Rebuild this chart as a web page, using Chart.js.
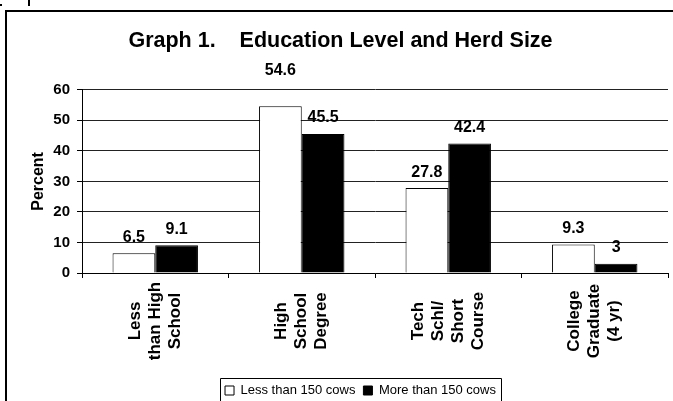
<!DOCTYPE html>
<html>
<head>
<meta charset="utf-8">
<script src="https://cdn.jsdelivr.net/npm/chart.js@4"></script>
<style>
  html, body { margin: 0; padding: 0; background: #fff; }
  body { width: 673px; height: 401px; position: relative; overflow: hidden; }
  #frame { position: absolute; left: 5px; top: 10px; width: 700px; height: 420px; border-left: 2px solid #000; border-top: 2px solid #000; }
  #wrap { position: absolute; left: 0; top: 0; width: 673px; height: 401px; }
  .mark { position: absolute; background: #000; }
</style>
</head>
<body>
<div class="mark" style="left:28px;top:0;width:2px;height:6px"></div>
<div class="mark" style="left:0;top:4px;width:2px;height:2px"></div>
<div id="frame"></div>
<div id="wrap"><canvas id="chart"></canvas></div>
<script>
const categories = [
  ['Less', 'than High', 'School'],
  ['High', 'School', 'Degree'],
  ['Tech', 'Schl/', 'Short', 'Course'],
  ['College', 'Graduate', '(4 yr)']
]
const seriesNames = ['Less than 150 cows', 'More than 150 cows']
const lessThan150 = [6.5, 54.6, 27.8, 9.3]
const moreThan150 = [9.1, 45.5, 42.4, 3]
const yMin = 0
const yMax = 60
const yStep = 10

const FONT = '"Liberation Sans", Arial, sans-serif'

/* labels drawn by hand: rotated category names (centred) and values on top of bars */
const extras = {
  id: 'extras',
  afterLayout(chart) {
    // the legend sits a little right of centre in the original
    chart.legend.left += 20
    chart.legend.right += 20
  },
  afterDraw(chart) {
    const ctx = chart.ctx
    const xs = chart.scales.x
    ctx.save()
    ctx.fillStyle = '#000'
    ctx.textAlign = 'center'
    ctx.textBaseline = 'middle'

    // category names, one column per line
    ctx.font = 'bold 17px ' + FONT
    categories.forEach((lines, i) => {
      const cx = xs.getPixelForValue(i)
      lines.forEach((line, k) => {
        ctx.save()
        ctx.translate(cx + (k - (lines.length - 1) / 2) * 20, 321)
        ctx.rotate(-Math.PI / 2)
        ctx.fillText(line, 0, 0)
        ctx.restore()
      })
    })

    // values above the bars
    ctx.font = 'bold 16px ' + FONT
    chart.data.datasets.forEach((ds, d) => {
      chart.getDatasetMeta(d).data.forEach((bar, i) => {
        let lift = 16
        if (d === 0 && i === 1) lift = 36 // this one sits higher in the original
        ctx.fillText(String(ds.data[i]), bar.x, bar.y - lift)
      })
    })

    // box round the legend
    const boxes = chart.legend.legendHitBoxes
    if (boxes && boxes.length) {
      const first = boxes[0], last = boxes[boxes.length - 1]
      const l = Math.round(first.left - 5) + 0.5
      const r = Math.round(last.left + last.width + 5) + 0.5
      const t = Math.round(first.top - 6) + 0.5
      ctx.strokeStyle = '#000'
      ctx.lineWidth = 1
      ctx.beginPath()
      ctx.moveTo(l, chart.height + 2)
      ctx.lineTo(l, t)
      ctx.lineTo(r, t)
      ctx.lineTo(r, chart.height + 2)
      ctx.stroke()
    }
    ctx.restore()
  }
}

new Chart(document.querySelector('#chart'), {
  type: 'bar',
  data: {
    labels: categories.map(c => c.join(' ')),
    datasets: [
      {
        label: seriesNames[0],
        data: lessThan150,
        backgroundColor: '#fff',
        borderColor: '#000',
        borderWidth: 1,
        categoryPercentage: 0.583,
        barPercentage: 1
      },
      {
        label: seriesNames[1],
        data: moreThan150,
        backgroundColor: '#000',
        borderColor: '#000',
        borderWidth: 1,
        categoryPercentage: 0.583,
        barPercentage: 1
      }
    ]
  },
  options: {
    responsive: true,
    maintainAspectRatio: false,
    animation: false,
    layout: { padding: { left: 13, right: 5, top: 0, bottom: -6 } },
    plugins: {
      title: {
        display: true,
        text: 'Graph 1.    Education Level and Herd Size',
        color: '#000',
        font: { family: FONT, size: 21.5, weight: 'bold' },
        padding: { top: 28, bottom: 36 }
      },
      legend: {
        position: 'bottom',
        labels: {
          color: '#000',
          font: { family: FONT, size: 13 },
          boxWidth: 9,
          boxHeight: 9,
          padding: 8,
          generateLabels: chart => chart.data.datasets.map((ds, i) => ({
            text: ds.label,
            fillStyle: ds.backgroundColor,
            strokeStyle: '#000',
            lineWidth: 1,
            fontColor: '#000',
            datasetIndex: i
          }))
        }
      },
      tooltip: { enabled: false }
    },
    scales: {
      x: {
        ticks: { display: false },
        grid: { offset: true, drawOnChartArea: false, drawTicks: true, tickLength: 5, color: '#000' },
        border: { display: true, color: '#000', width: 1 },
        afterFit: s => { s.height = 103 }
      },
      y: {
        min: yMin,
        max: yMax,
        ticks: {
          stepSize: yStep,
          color: '#000',
          padding: 7,
          font: { family: FONT, size: 15, weight: 'bold' }
        },
        grid: { color: '#222', lineWidth: 1, tickLength: 5, tickColor: '#000' },
        border: { display: true, color: '#000', width: 1 },
        title: {
          display: true,
          text: 'Percent',
          color: '#000',
          font: { family: FONT, size: 16, weight: 'bold' },
          padding: { top: 16, bottom: 0 }
        },
        afterFit: s => { s.width = 69 }
      }
    }
  },
  plugins: [extras]
})
</script>
</body>
</html>
